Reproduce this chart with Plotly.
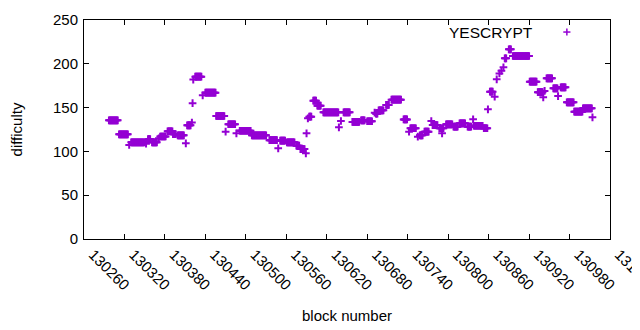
import plotly.graph_objects as go

# Runs of constant difficulty (first block, last block, difficulty)
run_first_block = [130297, 130312, 130327, 130330, 130352, 130355, 130361, 130371, 130373, 130384,
                   130392, 130399, 130411, 130413, 130420, 130421, 130422, 130425, 130436, 130440,
                   130456, 130470, 130474, 130486, 130491, 130509, 130535, 130548, 130551, 130561,
                   130575, 130581, 130589, 130590, 130592, 130594, 130600, 130606, 130615, 130638,
                   130641, 130645, 130658, 130671, 130680, 130691, 130693, 130697, 130708, 130716,
                   130734, 130742, 130744, 130755, 130758, 130765, 130775, 130777, 130787, 130791,
                   130792, 130797, 130808, 130817, 130829, 130837, 130838, 130853, 130859, 130862,
                   130869, 130872, 130876, 130879, 130882, 130884, 130890, 130896, 130921, 130933,
                   130941, 130943, 130946, 130956, 130963, 130967, 130976, 130987, 131000, 131014]
run_last_block = [130310, 130325, 130327, 130349, 130352, 130358, 130368, 130371, 130381, 130391,
                  130396, 130408, 130411, 130418, 130420, 130421, 130422, 130434, 130436, 130455,
                  130468, 130470, 130484, 130486, 130507, 130530, 130546, 130548, 130558, 130572,
                  130579, 130587, 130589, 130590, 130592, 130597, 130604, 130611, 130637, 130638,
                  130641, 130654, 130668, 130676, 130687, 130691, 130695, 130704, 130712, 130730,
                  130739, 130742, 130752, 130755, 130762, 130771, 130775, 130784, 130790, 130791,
                  130793, 130806, 130814, 130825, 130834, 130837, 130851, 130858, 130859, 130866,
                  130869, 130872, 130876, 130879, 130882, 130886, 130893, 130920, 130931, 130940,
                  130941, 130943, 130954, 130962, 130963, 130974, 130986, 130999, 131013, 131014]
run_difficulty = [135.5, 119.5, 107.3, 110.4, 108.8, 114.0, 110.4, 115.0, 117.0, 123.0,
                  119.6, 118.4, 109.2, 129.8, 133.0, 155.0, 182.0, 185.3, 164.0, 167.0,
                  140.4, 122.5, 131.0, 120.6, 123.6, 118.4, 112.8, 103.5, 112.2, 110.4,
                  106.5, 102.7, 97.8, 120.6, 137.8, 139.6, 157.9, 152.2, 144.6, 127.5,
                  134.7, 144.6, 133.6, 135.5, 134.4, 144.2, 143.0, 146.9, 153.0, 159.1,
                  136.5, 122.5, 126.4, 116.8, 118.4, 122.5, 134.7, 130.1, 126.4, 120.6,
                  126.4, 130.9, 128.2, 132.0, 128.2, 136.6, 129.3, 126.4, 148.0, 168.2,
                  162.4, 182.3, 189.0, 192.0, 196.0, 206.3, 216.5, 208.9, 179.6, 167.6,
                  161.7, 169.0, 183.4, 172.0, 163.2, 173.2, 156.0, 145.3, 149.2, 138.9]

x_tick_values = [130260, 130320, 130380, 130440, 130500, 130560, 130620, 130680,
                 130740, 130800, 130860, 130920, 130980, 131040]
y_tick_values = [0, 50, 100, 150, 200, 250]
series_name = "YESCRYPT"

# one point per block
blocks, diffs = [], []
for a, b, v in zip(run_first_block, run_last_block, run_difficulty):
    for blk in range(a, b + 1):
        blocks.append(blk)
        diffs.append(v)

COLOR = "#9400D3"
FONT = "Liberation Sans, Arial, sans-serif"

fig = go.Figure()
fig.add_trace(go.Scatter(
    x=blocks, y=diffs, mode="markers", name=series_name, showlegend=False,
    marker=dict(symbol="cross-thin", size=5.5, line=dict(color=COLOR, width=2), color=COLOR),
))

axis_common = dict(
    showgrid=False, zeroline=False, showline=True, linecolor="black", linewidth=1,
    mirror="ticks", ticks="inside", ticklen=5, tickcolor="black", automargin=False,
    tickfont=dict(family=FONT, size=15, color="black"), ticklabeloverflow="allow",
)

fig.update_xaxes(
    range=[130260, 131040], tickmode="array", tickvals=x_tick_values,
    ticktext=[str(v) for v in x_tick_values], tickangle=45, ticklabelshift=9,
    title=dict(text="block number", font=dict(family=FONT, size=15, color="black"), standoff=18),
    **axis_common,
)
fig.update_yaxes(
    range=[0, 250], tickmode="array", tickvals=y_tick_values, ticklabelstandoff=2,
    title=dict(text="difficulty", font=dict(family=FONT, size=15, color="black"), standoff=26),
    **axis_common,
)

# key (text followed by sample, gnuplot style)
fig.add_annotation(xref="paper", yref="paper", x=0.857, y=0.945, text=series_name,
                   showarrow=False, xanchor="right", yanchor="middle",
                   font=dict(family=FONT, size=15.5, color="black"))
kx, ky, dx, dy = 0.918, 0.945, 0.0068, 0.016
fig.add_shape(type="line", xref="paper", yref="paper", x0=kx - dx, x1=kx + dx, y0=ky, y1=ky,
              line=dict(color=COLOR, width=1.5))
fig.add_shape(type="line", xref="paper", yref="paper", x0=kx, x1=kx, y0=ky - dy, y1=ky + dy,
              line=dict(color=COLOR, width=1.5))

# the page adds an 8px body margin, so the figure is sized to fit inside the 640x330 window
fig.update_layout(
    width=632, height=322,
    margin=dict(l=76, r=30, t=12, b=91),
    plot_bgcolor="white", paper_bgcolor="white",
    font=dict(family=FONT, size=15, color="black"),
)

fig.write_html("out.html")
